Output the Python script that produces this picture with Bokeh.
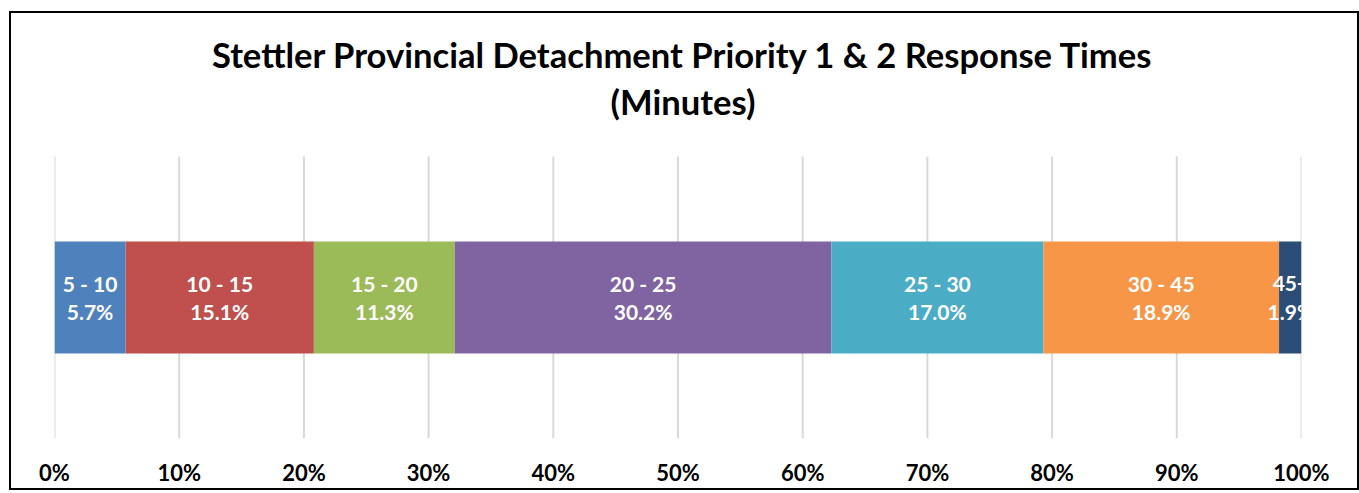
from bokeh.plotting import figure
from bokeh.models import ColumnDataSource, FixedTicker, NumeralTickFormatter, Range1d
from bokeh.core.properties import value
from bokeh.embed import file_html
from bokeh.resources import INLINE

# ---- data ----
categories = ["5 - 10", "10 - 15", "15 - 20", "20 - 25", "25 - 30", "30 - 45", "45+"]
shares = [5.7, 15.1, 11.3, 30.2, 17.0, 18.9, 1.9]
colors = ["#4F81BD", "#C0504D", "#9BBB59", "#8064A2", "#4BACC6", "#F79646", "#2C4D75"]
tick_values = [0.0, 0.1, 0.2, 0.3, 0.4, 0.5, 0.6, 0.7, 0.8, 0.9, 1.0]
title_lines = ["Stettler Provincial Detachment Priority 1 & 2 Response Times", "(Minutes)"]

FONT = "Lato"
# vertical layout in pixels (y measured upward from the bottom of the plotting area)
FRAME_H = 425
GRID_TOP = 282
BAR_Y = 141
BAR_H = 112
TITLE_Y = [384, 337]

fr = [s / 100.0 for s in shares]
lefts, rights = [], []
acc = 0.0
for f in fr:
    lefts.append(acc)
    acc += f
    rights.append(acc)
mids = [(l + r) / 2 for l, r in zip(lefts, rights)]
pct_labels = ["%.1f%%" % s for s in shares]

src = ColumnDataSource(dict(cat=categories, left=lefts, right=rights, mid=mids,
                            y=[BAR_Y] * len(categories), color=colors, pct=pct_labels))

p = figure(title=None, frame_width=1247, frame_height=FRAME_H, output_backend="svg",
           toolbar_location=None,
           x_range=Range1d(0, 1), y_range=Range1d(0, FRAME_H),
           min_border_left=43, min_border_right=56, min_border_top=0, min_border_bottom=42)
p.styles = {"border": "2px solid #000000", "box-sizing": "border-box",
            "margin-left": "9px", "margin-top": "11px"}

# vertical gridlines at the tick positions
p.segment(x0=tick_values, y0=[0] * len(tick_values), x1=tick_values,
          y1=[GRID_TOP] * len(tick_values), line_color="#D9D9D9", line_width=2)

p.hbar(y="y", left="left", right="right", height=BAR_H, color="color", line_color=None, source=src)
p.text(x="mid", y="y", text="cat", text_color="white", text_font=value(FONT),
       text_font_style="bold", text_font_size="21px", text_align="center",
       text_baseline="middle", y_offset=-14, source=src)
p.text(x="mid", y="y", text="pct", text_color="white", text_font=value(FONT),
       text_font_style="bold", text_font_size="21px", text_align="center",
       text_baseline="middle", y_offset=14, source=src)

# two-line centred title
p.text(x=[0.5, 0.5], y=TITLE_Y, text=title_lines, x_offset=5, text_color="#000000",
       text_font=value(FONT), text_font_style="bold", text_font_size="34.6px",
       text_align="center", text_baseline="middle")

p.xaxis.ticker = FixedTicker(ticks=tick_values)
p.xaxis.formatter = NumeralTickFormatter(format="0%")
p.xaxis.axis_line_color = None
p.xaxis.major_tick_line_color = None
p.xaxis.minor_tick_line_color = None
p.xaxis.major_label_text_font = FONT
p.xaxis.major_label_text_font_style = "bold"
p.xaxis.major_label_text_font_size = "22px"
p.xaxis.major_label_text_color = "#000000"
p.xaxis.major_label_standoff = 14
p.yaxis.visible = False

p.xgrid.visible = False
p.ygrid.visible = False
p.outline_line_color = None
p.background_fill_color = "white"
p.border_fill_color = "white"

open("out.html", "w").write(file_html(p, INLINE))
